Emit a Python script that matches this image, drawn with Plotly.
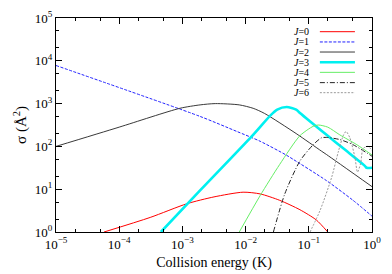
import plotly.graph_objects as go

# ---- data (log10 values) ----
labels = ["J=0", "J=1", "J=2", "J=3", "J=4", "J=5", "J=6"]

j0_logE = [-4.24, -3.51, -2.93, -2.5, -2.04, -1.77, -1.46, -1.14, -0.88, -0.70]
j0_logS = [0.0, 0.34, 0.66, 0.82, 0.93, 0.89, 0.74, 0.52, 0.28, 0.0]

j1_logE = [-5.0, -2.72, -2.14, -1.77, -1.36, -1.25, -0.72, -0.30, 0.0]
j1_logS = [3.89, 2.70, 2.35, 2.12, 1.80, 1.70, 1.20, 0.74, 0.37]

j2_logE = [-5.0, -4.0, -3.04, -2.72, -2.48, -2.1, -1.88, -1.7, -1.2, -0.80, -0.72, 0.0]
j2_logS = [2.0, 2.45, 2.89, 2.97, 3.0, 2.97, 2.89, 2.77, 2.30, 1.89, 1.81, 1.06]

j3_logE = [-3.34, -2.72, -1.9, -1.61, -1.5, -1.35, -1.2, -1.14, -0.72, -0.40, -0.30, -0.11, -0.085, 0.0]
j3_logS = [0.0, 0.97, 2.24, 2.72, 2.86, 2.92, 2.86, 2.78, 2.27, 1.89, 1.77, 1.54, 1.50, 1.50]

j4_logE = [-2.10, -1.77, -1.46, -1.14, -0.93, -0.85, -0.70, -0.51, -0.24, 0.0]
j4_logS = [0.0, 0.85, 1.58, 2.25, 2.47, 2.50, 2.45, 2.27, 2.04, 1.80]

j5_logE = [-1.56, -1.38, -1.14, -0.93, -0.80, -0.72, -0.51, -0.30, 0.0]
j5_logS = [0.0, 0.89, 1.66, 2.04, 2.20, 2.21, 2.16, 2.04, 1.77]

j6_logE = [-0.98, -0.82, -0.64, -0.53, -0.45, -0.41, -0.35, -0.27, -0.23, -0.18, -0.14, -0.06, 0.0]
j6_logS = [0.0, 0.51, 1.27, 1.89, 2.27, 2.35, 2.20, 1.74, 1.40, 1.60, 1.95, 2.0, 1.90]

x_tickvals = [1e-5, 1e-4, 1e-3, 1e-2, 1e-1, 1e0]
x_ticktext = ["10<sup>−5</sup>", "10<sup>−4</sup>", "10<sup>−3</sup>",
              "10<sup>−2</sup>", "10<sup>−1</sup>", "10<sup>0</sup>"]
y_tickvals = [1e0, 1e1, 1e2, 1e3, 1e4, 1e5]
y_ticktext = ["10<sup>0</sup>", "10<sup>1</sup>", "10<sup>2</sup>",
              "10<sup>3</sup>", "10<sup>4</sup>", "10<sup>5</sup>"]

series = [
    (j0_logE, j0_logS, "#ff0000", 1.0, "solid"),
    (j1_logE, j1_logS, "#2020ff", 1.0, "3px,1.5px"),
    (j2_logE, j2_logS, "#222222", 0.9, "solid"),
    (j3_logE, j3_logS, "#00f0f0", 2.6, "solid"),
    (j4_logE, j4_logS, "#66ee66", 1.0, "solid"),
    (j5_logE, j5_logS, "#222222", 1.0, "5px,2px,1px,2px"),
    (j6_logE, j6_logS, "#999999", 1.0, "2px,1.5px"),
]

fig = go.Figure()
for (le, ls, col, w, dash), name in zip(series, labels):
    fig.add_trace(go.Scatter(
        x=[10 ** v for v in le], y=[10 ** v for v in ls], mode="lines",
        line=dict(color=col, width=w, dash=dash, shape="spline", smoothing=0.7),
        name=name, showlegend=False))

# manual legend (text left of line sample, as in the reference)
leg_y = [0.936, 0.888, 0.841, 0.793, 0.746, 0.698, 0.651]
for (le, ls, col, w, dash), name, yy in zip(series, labels, leg_y):
    fig.add_annotation(x=0.805, y=yy, xref="paper", yref="paper",
                       text="<i>J</i>=" + name.split("=")[1], showarrow=False,
                       xanchor="right", yanchor="middle", borderpad=0,
                       font=dict(family="Liberation Serif", size=10, color="black"))
    fig.add_shape(type="line", xref="paper", yref="paper",
                  x0=0.835, x1=0.946, y0=yy, y1=yy,
                  line=dict(color=col, width=w, dash=dash))

axis_common = dict(
    type="log", showline=True, linecolor="black", linewidth=1, mirror="allticks",
    ticks="inside", ticklen=6, tickcolor="black", showgrid=False, zeroline=False,
    automargin=False, ticklabeloverflow="allow",
    minor=dict(ticks="inside", ticklen=3, tickcolor="black", showgrid=False),
    tickfont=dict(family="Liberation Serif", size=13, color="black"),
)

fig.update_xaxes(range=[-5, 0], tickvals=x_tickvals, ticktext=x_ticktext,
                 title=dict(text="Collision energy (K)", standoff=6,
                            font=dict(family="Liberation Serif", size=14, color="black")),
                 **axis_common)
fig.update_yaxes(range=[0, 5], tickvals=y_tickvals, ticktext=y_ticktext,
                 title=dict(text="σ (Å<sup>2</sup>)", standoff=4,
                            font=dict(family="Liberation Serif", size=15, color="black")),
                 **axis_common)

# page body has an 8px margin, so the figure is 8px smaller and margins shifted
fig.update_layout(
    width=384, height=266,
    margin=dict(l=48, r=20, t=10, b=42),
    paper_bgcolor="white", plot_bgcolor="white",
    font=dict(family="Liberation Serif", color="black"),
)

fig.write_html("out.html")
